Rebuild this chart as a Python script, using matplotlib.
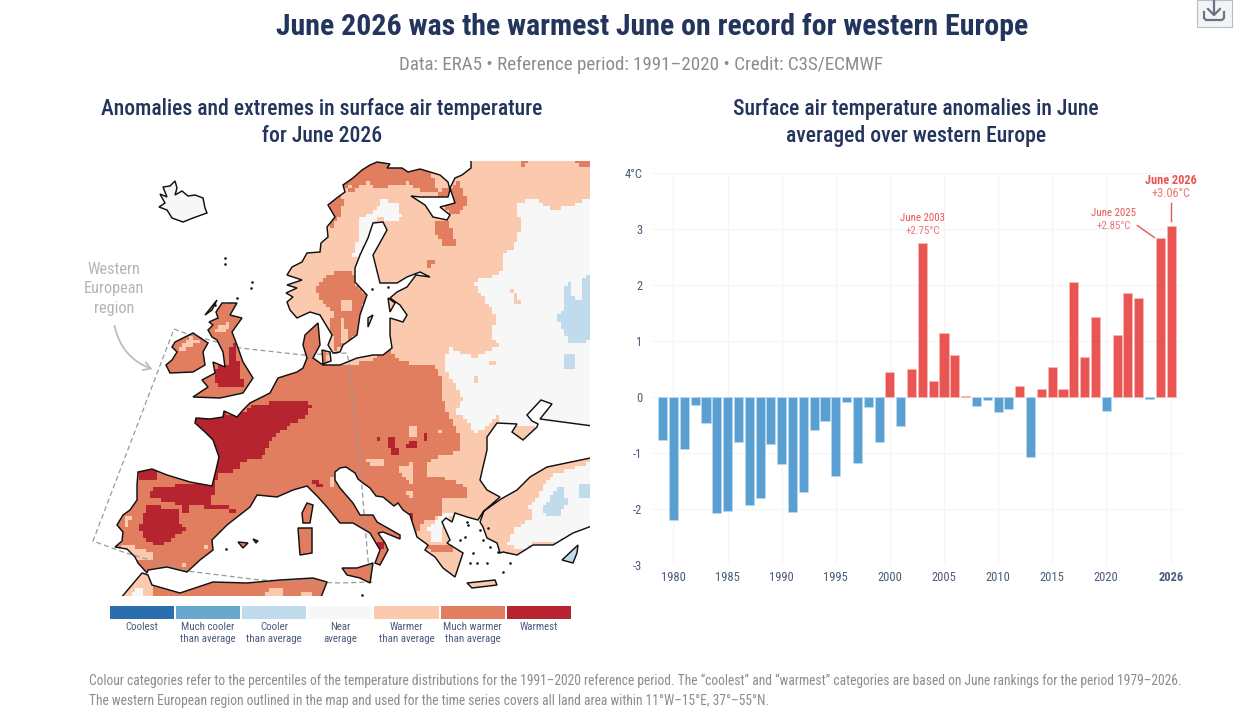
import logging
import numpy as np
import matplotlib
matplotlib.use("Agg")
import matplotlib.pyplot as plt
from matplotlib.colors import to_rgb
from matplotlib.patches import PathPatch, Rectangle
from matplotlib.path import Path
from matplotlib import font_manager

logging.getLogger("matplotlib.font_manager").setLevel(logging.ERROR)

W, H = 1240, 724
installed = {f.name for f in font_manager.fontManager.ttflist}
FONT = next((n for n in ["Roboto Condensed", "Liberation Sans Narrow", "Roboto"] if n in installed), "DejaVu Sans")
plt.rcParams["font.family"] = FONT

# time series
years = list(range(1979, 2027))
anomalies = [-0.78, -2.20, -0.94, -0.14, -0.47, -2.08, -2.05, -0.80, -1.94, -1.81,
             -0.85, -1.20, -2.06, -1.71, -0.60, -0.43, -1.41, -0.09, -1.19, -0.18,
             -0.80, 0.45, -0.52, 0.50, 2.75, 0.29, 1.14, 0.74, 0.02, -0.16,
             -0.06, -0.28, -0.21, 0.19, -1.07, 0.14, 0.53, 0.14, 2.05, 0.71,
             1.43, -0.26, 1.10, 1.85, 1.77, -0.04, 2.85, 3.06]
y_ticks = [-3, -2, -1, 0, 1, 2, 3, 4]
y_labels = ["-3", "-2", "-1", "0", "1", "2", "3", "4°C"]
x_ticks = [1980, 1985, 1990, 1995, 2000, 2005, 2010, 2015, 2020, 2026]

# legend
cat_names = ["Coolest", "Much cooler\nthan average", "Cooler\nthan average", "Near\naverage",
             "Warmer\nthan average", "Much warmer\nthan average", "Warmest"]
cat_colors = ["#2a6eb0", "#68a8cf", "#c0dbeb", "#f7f7f7", "#fbc9ae", "#e27e60", "#b6242f"]

# coastlines, in map coordinates
europe = [(147,573),(138,563),(135,557),(127,549),(115,547),(122,541),(123,532),(117,525),(123,515),
          (130,510),(137,500),(137,485),(138,472),(152,469),(167,475),(190,482),(212,486),(216,470),
          (219,457),(213,440),(205,432),(195,423),(196,418),(210,419),(223,417),(224,411),(237,417),
          (243,410),(250,403),(270,393),(278,378),(297,372),(303,368),(307,358),(303,345),(305,335),
          (318,323),(320,345),(313,358),(323,365),(340,365),(357,358),(373,355),(383,355),(392,348),
          (390,335),(390,318),(403,322),(407,315),(400,305),(390,298),(397,292),(407,287),(416,275),
          (430,277),(420,272),(407,277),(397,283),(380,283),(373,255),(377,248),(387,230),(383,222),
          (373,223),(368,238),(360,255),(355,268),(355,282),(367,295),(360,315),(357,335),(343,345),
          (340,352),(333,353),(328,345),(332,335),(323,320),(320,315),(310,312),(297,318),(290,310),
          (287,302),(293,297),(286,293),(297,288),(287,285),(302,280),(287,275),(292,267),(302,262),
          (307,253),(320,252),(321,243),(328,237),(327,227),(335,217),(328,205),(338,197),(345,192),
          (343,185),(353,178),(362,170),(370,165),(377,162),(390,164),(387,168),(402,168),(408,172),
          (420,169),(440,175),(448,182),
          (450,190),(448,197),(436,197),(420,197),(411,196),(425,205),(433,217),(447,220),(450,215),
          (440,207),(455,203),(450,188),(455,178),(462,175),(471,168),(471,150),(600,150),(600,427),
          (555,421),(540,419),(552,404),(541,400),(527,415),(532,421),(538,424),(537,427),(523,440),
          (512,432),(517,424),(497,423),(487,437),(487,450),(483,467),(480,480),(487,490),(500,497),
          (483,512),(478,520),(467,517),(455,513),(452,522),(446,518),(442,522),(450,540),(447,543),(463,553),
          (455,577),(443,568),(435,557),(425,550),(428,545),(417,537),(410,515),(403,510),(398,503),(394,506),
          (383,497),(376,496),(370,488),(363,483),(358,479),(355,473),(346,467),(340,468),(335,472),(335,480),(340,488),(353,503),(360,515),(373,515),
          (377,522),(400,535),(400,539),(383,532),(378,533),(385,543),(388,550),(380,565),(375,563),
          (380,550),(370,533),(353,523),(340,523),(327,507),(318,497),(307,486),(293,490),(277,497),
          (257,495),(250,507),(227,525),(212,540),(213,550),(200,560),(187,572),(167,567),(148,570)]
turkey = [(501,499),(517,490),(530,477),(547,467),(600,456),(600,523),(573,533),(553,545),(533,545),
          (517,555),(503,552),(500,553),(497,543),(487,538),(483,527),(480,522),(484,511)]
africa = [(115,605),(142,573),(148,575),(152,585),(180,593),(213,582),(247,583),(280,580),(313,578),
          (327,582),(318,605)]
britain = [(193,397),(208,387),(202,380),(215,373),(213,362),(225,367),(223,352),(217,340),(212,337),
           (208,330),(213,325),(209,322),(218,318),(216,312),(222,303),(237,303),(230,315),(242,318),(232,332),(237,345),(243,362),
           (253,378),(243,393),(220,398)]
ireland = [(166,365),(172,360),(177,352),(172,347),(175,342),(193,333),(208,343),(203,352),(205,365),(193,372),(170,373)]
iceland = [(159,207),(165,203),(160,194),(167,197),(163,187),(170,186),(175,181),(177,188),(175,195),(182,191),
           (188,196),(195,195),(203,198),(205,208),(207,213),(193,218),(183,222),(172,218),(167,210)]
sicily = [(342,568),(357,568),(373,563),(370,583),(360,578),(347,575)]
corsica = [(307,503),(313,505),(310,523),(303,523),(302,513)]
sardinia = [(298,528),(312,528),(312,553),(300,555)]
mallorca = [(238,542),(248,543),(243,548)]
menorca = [(253,539),(258,541),(256,543)]
crete = [(467,583),(495,580),(497,585),(472,588)]
cyprus = [(562,560),(578,545),(577,553),(573,563)]
gotland = [(368,318),(373,315),(368,327)]
saaremaa = [(388,298),(395,303),(390,312)]
zealand = [(322,350),(330,352),(331,361),(323,364)]
lewis = [(205,315),(217,300),(212,310)]
islands = [britain, ireland, iceland, sicily, corsica, sardinia, mallorca, menorca, crete, cyprus,
           gotland, saaremaa, zealand, lewis]

# small islets drawn as dots
islet_x = [225, 225, 252, 251, 237, 215, 467, 468, 480, 488, 483, 465, 460, 473, 487, 477, 470, 503, 510, 490, 498, 226, 362, 372, 388]
islet_y = [258, 264, 282, 288, 298, 305, 522, 525, 530, 528, 540, 537, 540, 553, 563, 563, 563, 572, 563, 547, 552, 549, 595, 289, 287]

# temperature category areas, later entries drawn over earlier ones
near_areas = [
    [(589,198),(567,208),(550,210),(537,200),(517,202),(520,228),(513,248),(503,255),(503,272),(493,277),
     (473,282),(483,298),(497,318),(490,335),(500,345),(487,352),(473,358),(450,348),(443,365),(450,378),
     (463,400),(455,413),(470,423),(473,433),(483,430),(497,417),(503,425),(600,435),(600,198)],
    [(352,258),(360,232),(360,218),(373,212),(383,200),(397,205),(402,218),(390,222),(380,217),(373,223),
     (368,238),(357,258)],
    [(150,175),(215,175),(215,230),(150,230)],
    [(589,463),(573,468),(557,473),(547,480),(540,493),(528,507),(533,517),(513,530),(507,543),(513,547),
     (527,550),(533,543),(553,543),(573,533),(600,523),(600,463)],
]
cool_areas = [
    [(600,265),(580,283),(580,302),(573,302),(572,285),(567,282),(562,295),(563,308),(557,318),(570,345),(600,338)],
    [(563,355),(573,356),(574,368),(565,368)],
    [(553,490),(562,488),(567,503),(557,517),(540,513),(547,503)],
    [(580,483),(600,485),(600,497),(577,497)],
    [(553,543),(570,535),(560,546)],
    [(555,540),(585,540),(585,570),(555,570)],
]
much_warm_areas = [
    [(390,348),(395,358),(413,365),(433,365),(440,378),(443,390),(442,400),(450,420),(460,437),(460,452),
     (437,457),(425,463),(428,475),(445,478),(465,487),(468,500),(443,500),(440,515),(422,523),(414,535),
     (420,545),(415,600),(330,600),(330,574),(147,574),(100,560),(100,400),(282,345),(300,322),(322,320),
     (326,345),(328,362),(345,367),(372,360)],
    [(160,325),(250,295),(260,402),(160,402)],
    [(153,576),(330,576),(330,605),(153,605)],
    [(323,278),(340,270),(352,270),(358,288),(367,295),(362,312),(357,335),(343,345),(333,352),(330,320),
     (335,315),(320,298),(315,288)],
    [(328,232),(340,215),(345,197),(368,182),(376,189),(408,183),(417,190),(432,192),(445,190),(450,188),
     (458,183),(468,200),(468,205),(457,213),(450,215),(440,200),(430,170),(400,155),(335,165)],
    [(433,222),(447,222),(457,245),(445,247),(433,232)],
    [(518,155),(528,155),(528,163),(522,166)],
    [(572,155),(600,155),(600,167),(578,167)],
    [(425,258),(433,262),(432,267),(427,267)],
    [(428,546),(450,545),(452,551),(432,552)],
]
warm_areas = [
    [(218,325),(230,323),(225,335),(215,332)],
    [(177,352),(190,337),(200,342),(182,352)],
    [(125,515),(132,515),(124,530)],
    [(120,543),(153,552),(152,560),(130,558)],
    [(200,543),(210,546),(208,548),(200,546)],
    [(180,563),(187,566),(185,568)],
    [(328,477),(335,477),(335,487),(330,487)],
    [(408,427),(415,425),(415,437),(411,437)],
    [(367,460),(382,458),(382,465),(368,467)],
    [(397,467),(412,463),(412,483),(407,480),(403,475),(397,472)],
    [(437,427),(442,433),(441,438)],
    [(510,288),(518,296),(520,303),(515,303)],
    [(472,375),(478,377),(478,382),(473,381)],
    [(488,362),(495,362),(494,367)],
    [(127,600),(142,574),(152,578),(150,600)],
    [(262,600),(270,588),(282,587),(287,600)],
    [(298,600),(302,592),(312,592),(312,600)],
    [(402,490),(412,492),(410,500)],
    [(340,196),(350,186),(345,200)],
    [(340,300),(352,300),(353,312),(342,310)],
    [(340,318),(345,318),(347,342),(340,345)],
]
near_patches = [
    [(130,600),(135,587),(142,590),(143,600)],
    [(428,527),(443,513),(453,515),(443,527),(443,540),(432,540)],
    [(334,232),(338,228),(338,238)],
    [(330,455),(335,455),(335,460)],
]
warmest_areas = [
    [(195,418),(223,413),(237,417),(247,410),(253,403),(270,403),(287,402),(307,402),(313,405),(307,415),
     (293,423),(280,432),(270,443),(262,457),(240,462),(238,470),(228,472),(220,472),(215,483),(216,493),
     (207,503),(233,508),(235,512),(200,507),(192,503),(190,512),(183,513),(180,505),(168,502),(158,500),
     (150,497),(148,490),(167,488),(183,483),(212,483),(205,432),(190,420)],
    [(136,470),(157,468),(158,480),(142,482)],
    [(148,507),(160,507),(170,510),(178,508),(180,522),(185,530),(175,537),(167,542),(158,545),(147,542),
     (138,528),(143,517)],
    [(233,335),(237,355),(243,385),(237,388),(223,388),(213,378),(215,368),(228,365),(230,352)],
    [(313,482),(320,481),(321,487),(314,487)],
    [(387,437),(393,436),(398,455),(390,453)],
    [(403,443),(415,442),(417,450),(405,449)],
    [(423,432),(428,433),(428,441),(425,441)],
    [(375,437),(379,437),(379,441),(375,441)],
    [(409,513),(412,513),(412,520),(410,520)],
    [(378,543),(382,543),(382,547),(378,547)],
]
map_layers = [(3, near_areas), (2, cool_areas), (5, much_warm_areas), (4, warm_areas),
              (3, near_patches), (6, warmest_areas)]

# region outline
region_x = [174, 190, 240, 303, 347, 350, 353, 360, 363, 368, 372, 340, 260, 187, 123, 93, 174]
region_y = [329, 335, 348, 355, 353, 368, 405, 463, 500, 560, 582, 583, 580, 571, 552, 541, 329]

fig = plt.figure(figsize=(W / 100, H / 100), dpi=100, facecolor="white")


def px_axes(left, top, right, bottom):
    return fig.add_axes([left / W, 1 - bottom / H, (right - left) / W, (bottom - top) / H])


def px_text(x, y, s, **kw):
    kw.setdefault("ha", "center")
    kw.setdefault("va", "center")
    return fig.text(x / W, 1 - y / H, s, **kw)


NAVY = "#23355c"
SLATE = "#4a5b7c"
GREY = "#8c8c8c"
RED = "#e85552"
BLUE = "#5a9fd2"

# headings (sizes in points, 100 dpi)
px_text(652, 27, "June 2026 was the warmest June on record for western Europe", fontsize=21.5, color=NAVY, fontweight="bold")
px_text(641, 64.5, "Data: ERA5 • Reference period: 1991–2020 • Credit: C3S/ECMWF", fontsize=13.7, color=GREY)
px_text(322, 122.5, "Anomalies and extremes in surface air temperature\nfor June 2026", fontsize=15.6,
        color=NAVY, fontweight="medium", linespacing=1.27)
px_text(916, 122.5, "Surface air temperature anomalies in June\naveraged over western Europe", fontsize=15.6,
        color=NAVY, fontweight="medium", linespacing=1.27)

# footer
px_text(89, 680.5, "Colour categories refer to the percentiles of the temperature distributions for the 1991–2020 reference period. "
        "The “coolest” and “warmest” categories are based on June rankings for the period 1979–2026.",
        ha="left", fontsize=9.76, color=GREY)
px_text(89, 700.5, "The western European region outlined in the map and used for the time series covers all land area within 11°W–15°E, 37°–55°N.",
        ha="left", fontsize=9.76, color=GREY)

# map
ax = px_axes(85, 160.5, 589.5, 596)
ax.set_xlim(85, 589.5)
ax.set_ylim(596, 160.5)
ax.axis("off")

# rasterise the category areas onto a coarse grid
step = 3.6
gx = np.arange(85, 590, step)
gy = np.arange(160, 597, step)
xx, yy = np.meshgrid(gx + step / 2, gy + step / 2)
pts = np.column_stack([xx.ravel(), yy.ravel()])
grid = np.full(len(pts), 4)
for cat, areas in map_layers:
    for poly in areas:
        grid[Path(poly).contains_points(pts)] = cat
rgb = np.array([to_rgb(c) for c in cat_colors])[grid].reshape(xx.shape + (3,))
im = ax.imshow(rgb, extent=(gx[0], gx[-1] + step, gy[-1] + step, gy[0]), interpolation="nearest", aspect="auto", zorder=1)
ax.set_xlim(85, 589.5)
ax.set_ylim(596, 160.5)

land = Path.make_compound_path(*[Path(p + [p[0]], closed=True) for p in [europe, turkey, africa] + islands])
clip = PathPatch(land, transform=ax.transData, facecolor="none", edgecolor="none")
ax.add_patch(clip)
im.set_clip_path(clip)

ax.plot(region_x, region_y, color="#9a9a9a", lw=0.9, ls=(0, (4, 2.5)), zorder=2, clip_on=False)
ax.add_patch(PathPatch(land, facecolor="none", edgecolor="#111111", lw=1.05, zorder=3))
ax.scatter(islet_x, islet_y, s=3.5, color="#111111", linewidths=0, zorder=3)

ax.text(114, 289, "Western\nEuropean\nregion", ha="center", va="center", fontsize=11.8, color="#b5b5b5", linespacing=1.38)
ax.annotate("", xy=(155, 370), xytext=(114, 323),
            arrowprops=dict(arrowstyle="->,head_length=0.5,head_width=0.3", color="#bdbdbd", lw=1.3,
                            connectionstyle="arc3,rad=0.3"))

# legend boxes
for i, (name, col) in enumerate(zip(cat_names, cat_colors)):
    left = 110 + 66.1 * i
    fig.patches.append(Rectangle((left / W, 1 - 619 / H), 64.2 / W, 13 / H, transform=fig.transFigure,
                                 facecolor=col, edgecolor="none"))
    px_text(left + 32, 622.5, name, fontsize=7.8, color=SLATE, linespacing=1.25, va="top")

# bar chart
bx = px_axes(652, 173.3, 1182, 564.5)
bx.set_xlim(1980 - (673.5 - 652) / 10.82, 1980 + (1182 - 673.5) / 10.82)
bx.set_ylim(-3, 4)
bx.grid(True, color="#f4f5f7", lw=0.9)
bx.set_axisbelow(True)
for s in bx.spines.values():
    s.set_visible(False)
bar_colors = [RED if v > 0 else BLUE for v in anomalies]
edge_colors = ["#f8bcba" if v > 0 else "#bddbf0" for v in anomalies]
bx.bar(years, anomalies, width=0.84, color=bar_colors, edgecolor=edge_colors, linewidth=0.5, zorder=2)
bx.set_yticks(y_ticks, y_labels, fontsize=9, color=SLATE)
bx.set_xticks(x_ticks, [str(t) for t in x_ticks], fontsize=9, color=SLATE)
bx.get_xticklabels()[-1].set_fontweight("bold")
bx.tick_params(length=0, pad=7)
bx.tick_params(axis="x", pad=5)

values = dict(zip(years, anomalies))


def note(year, dx, dy, lines, size=7.8, bold=False):
    v = values[year]
    bx.annotate(lines[0], xy=(year, v), xytext=(dx, dy + 13), textcoords="offset pixels", ha="center", va="center",
                fontsize=size, color=RED, fontweight="bold" if bold else "normal", annotation_clip=False)
    bx.annotate(lines[1], xy=(year, v), xytext=(dx, dy), textcoords="offset pixels", ha="center", va="center",
                fontsize=size, color="#ee7572", annotation_clip=False)


note(2003, 0, 12, ["June 2003", f"+{values[2003]:.2f}°C"])
note(2025, -47, 12, ["June 2025", f"+{values[2025]:.2f}°C"])
note(2026, 0, 32, ["June 2026", f"+{values[2026]:.2f}°C"], size=8.8, bold=True)
bx.plot([2026, 2026], [values[2026] + 0.09, values[2026] + 0.41], color=RED, lw=1, zorder=3, clip_on=False)
bx.plot([2022.87, 2024.45], [values[2025] + 0.215, values[2025]], color=RED, lw=1, zorder=3, clip_on=False)

# export button in the corner
fig.patches.append(Rectangle((1197 / W, 1 - 27 / H), 35 / W, 27 / H, transform=fig.transFigure,
                             facecolor="#f3f4f6", edgecolor="#b9bcc2", lw=0.8))
for xs, ys in [([1214, 1214], [0, 14]), ([1208, 1214, 1220], [9, 15, 9]),
               ([1204, 1204, 1206, 1222, 1224, 1224], [12, 18, 20, 20, 18, 12])]:
    fig.add_artist(plt.Line2D([x / W for x in xs], [1 - y / H for y in ys], color="#6b7280", lw=1.6,
                              transform=fig.transFigure))

fig.savefig("out.png", dpi=100, facecolor="white")
